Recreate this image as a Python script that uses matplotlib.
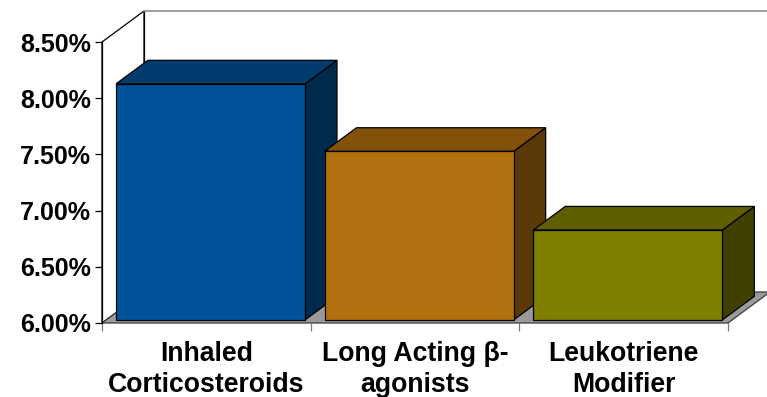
import matplotlib
matplotlib.use("Agg")
import matplotlib.pyplot as plt
from matplotlib.patches import Polygon

# Chart data
categories = ["Inhaled\nCorticosteroids", "Long Acting β-\nagonists", "Leukotriene\nModifier"]
values = [8.10, 7.50, 6.80]
y_ticks = [6.00, 6.50, 7.00, 7.50, 8.00, 8.50]

front_colors = ["#00529a", "#b3710f", "#808000"]
top_colors = ["#003d6e", "#82520a", "#5f5f00"]
side_colors = ["#002a4c", "#5a3906", "#404000"]

plt.rcParams["font.family"] = ["Liberation Sans", "DejaVu Sans"]
plt.rcParams["font.weight"] = "bold"

fig = plt.figure(figsize=(7.67, 3.97), dpi=100)
ax = fig.add_axes([102 / 767, 74 / 397, 626 / 767, 281 / 397])
ymin, ymax = y_ticks[0], y_ticks[-1]
n = len(categories)
ax.set_xlim(0, n)
ax.set_ylim(ymin, ymax)
for s in ax.spines.values():
    s.set_visible(False)

# oblique projection of depth
DX, DY = 0.2013, 0.2758


def proj(x, y, d):
    return (x + d * DX, y + d * DY)


def poly(pts, fc, ec="black", lw=0.9, z=1):
    p = Polygon(pts, closed=True, facecolor=fc, edgecolor=ec, linewidth=lw,
                clip_on=False, zorder=z, joinstyle="miter")
    ax.add_patch(p)


# side wall, back wall and floor
poly([proj(0, ymin, 0), proj(0, ymin, 1), proj(0, ymax, 1), proj(0, ymax, 0)], "white", z=1)
poly([proj(0, ymin, 1), proj(n, ymin, 1), proj(n, ymax, 1), proj(0, ymax, 1)], "white",
     ec="none", z=1)
ax.plot(*zip(proj(0, ymin, 1), proj(0, ymax, 1)), color="black", lw=0.9, clip_on=False, zorder=2)
ax.plot(*zip(proj(0, ymax, 1), proj(n, ymax, 1)), color="#8a8a8a", lw=1.2, clip_on=False, zorder=2)
poly([proj(0, ymin, 0), proj(n, ymin, 0), proj(n, ymin, 1), proj(0, ymin, 1)], "#9a9a9a",
     ec="#3c3c3c", lw=0.9, z=2)

# bars
width = 0.906
d0, d1 = 0.10, 0.86
for i, v in enumerate(values):
    xl = i + (1 - width) / 2
    xr = xl + width
    front = [proj(xl, ymin, d0), proj(xr, ymin, d0), proj(xr, v, d0), proj(xl, v, d0)]
    top = [proj(xl, v, d0), proj(xr, v, d0), proj(xr, v, d1), proj(xl, v, d1)]
    side = [proj(xr, ymin, d0), proj(xr, ymin, d1), proj(xr, v, d1), proj(xr, v, d0)]
    z = 3 + i
    poly(side, side_colors[i], z=z)
    poly(top, top_colors[i], z=z)
    poly(front, front_colors[i], z=z)

# axis line on the left front edge
ax.plot([0, 0], [ymin, ymax], color="black", lw=0.9, clip_on=False, zorder=2)

ax.set_yticks(y_ticks)
ax.set_yticklabels([f"{t:.2f}%" for t in y_ticks])
ax.tick_params(axis="y", direction="out", length=5, width=0.9, color="black",
               pad=3, labelsize=18)

ax.set_xticks(range(n + 1))
ax.set_xticklabels([])
ax.tick_params(axis="x", which="major", direction="out", length=6, width=0.9,
               color="#7a7a7a")
ax.set_xticks([i + 0.5 for i in range(n)], minor=True)
ax.set_xticklabels(categories, minor=True)
ax.tick_params(axis="x", which="minor", length=0, pad=13, labelsize=19.2)
for lbl in ax.get_xticklabels(minor=True):
    lbl.set_linespacing(1.25)
    lbl.set_multialignment("center")

fig.savefig("out.png", dpi=100)
